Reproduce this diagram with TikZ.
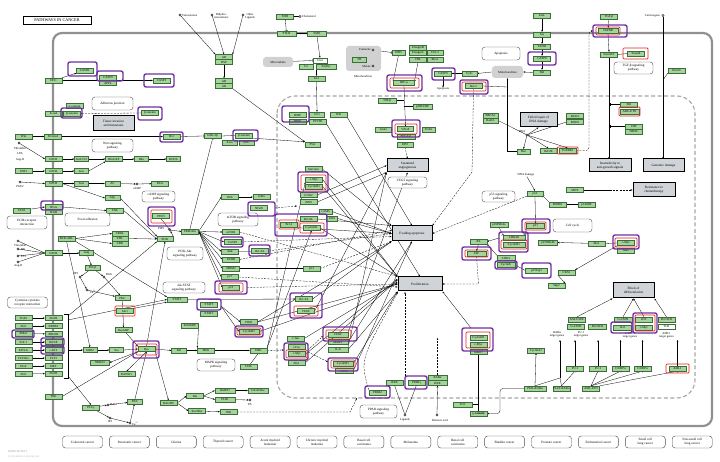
\documentclass[tikz,border=0pt]{standalone}
\usepackage{fontspec}
\setmainfont{Liberation Serif}
\usetikzlibrary{arrows.meta}
\pgfdeclarelayer{bg}
\pgfdeclarelayer{back}
\pgfsetlayers{back,bg,main}
\definecolor{kg}{RGB}{165,212,155}
\definecolor{kgd}{RGB}{60,110,60}
\definecolor{kp}{RGB}{112,48,160}
\definecolor{kr}{RGB}{228,32,32}
\definecolor{kgray}{RGB}{208,212,216}
\definecolor{memb}{RGB}{145,145,145}
\tikzset{
 gbx/.style={draw=kgd, fill=kg, line width=0.3pt, inner sep=0pt, minimum width=17pt, minimum height=5pt, font=\fontsize{3.1}{3.4}\selectfont},
 pheno/.style={draw=black, fill=kgray, line width=1pt, inner sep=0.5pt, align=center, font=\fontsize{3.4}{3.9}\selectfont},
 pway/.style={draw=black!70, rounded corners=3pt, line width=0.4pt, fill=white, align=center, inner sep=0.5pt, font=\fontsize{3.3}{3.8}\selectfont},
 txt/.style={inner sep=0pt, font=\fontsize{3}{3.4}\selectfont, align=center},
 cpd/.style={circle, draw=black, line width=0.3pt, fill=white, inner sep=0pt, minimum size=2.2pt},
 hp/.style={draw=kp, line width=1.4pt, rounded corners=2pt},
 hr/.style={draw=kr, line width=0.7pt, rounded corners=1pt},
 ed/.style={line width=0.3pt, -{Stealth[length=2pt,width=1.6pt]}},
 inh/.style={line width=0.3pt, -{Bar[width=3pt]}},
 ded/.style={line width=0.3pt, dash pattern=on 2pt off 1.2pt, -{Stealth[length=2pt,width=1.6pt]}},
 ln/.style={line width=0.3pt},
 graybox/.style={fill=black!18, rounded corners=3pt, inner sep=0pt, font=\fontsize{3.1}{3.5}\selectfont, align=center},
}
\newcommand{\kGN}[3]{\node[gbx] (#1) at (#2) {#3};}
\newcommand{\kGW}[4]{\node[gbx,minimum width=#4pt] (#1) at (#2) {#3};}
\newcommand{\kHP}[2]{\draw[hp] (#1) rectangle (#2);}
\newcommand{\kHR}[2]{\draw[hr] (#1) rectangle (#2);}
\newcommand{\kPW}[5]{\node[pway,minimum width=#4pt,minimum height=#5pt] (#1) at (#2) {#3};}
\newcommand{\kPH}[5]{\node[pheno,minimum width=#4pt,minimum height=#5pt] (#1) at (#2) {#3};}
\begin{document}
\begin{tikzpicture}[x=1pt,y=-1pt]
\useasboundingbox (0,0) rectangle (720,462);
\begin{pgfonlayer}{back}
\fill[white] (0,0) rectangle (720,462);
\draw[memb, line width=2.2pt, rounded corners=9pt] (53,33) rectangle (712,426);
\draw[black!35, line width=1.1pt, dash pattern=on 4pt off 2.5pt, rounded corners=18pt] (277,96) rectangle (695,398);
\end{pgfonlayer}

% title
\node[draw=black,line width=0.6pt,minimum width=68pt,minimum height=8pt,inner sep=0pt,font=\fontsize{4.2}{5}\selectfont] (title) at (57,20) {PATHWAYS IN CANCER};

% ---------- top left
\kGN{casp8a}{84.5,70.5}{CASP8}
\kGN{dcc}{53.5,80.5}{DCC}
\kGN{casp9a}{108,77.5}{CASP9}
\kGN{appl}{108,83}{APPL}
\kGN{casp3a}{161.5,80.5}{CASP3}
\kGN{acat}{74.5,106}{α-catenin}
\kGN{ecad}{53.5,113.5}{E-cad}
\kGN{bcat1}{72,113.5}{β-catenin}
\kGN{bcat2}{150,113}{β-catenin}
\kGN{wnt}{23.5,136.5}{Wnt}
\kGN{fzd}{53,136.5}{Frizzled}
\kGN{dvl}{171.5,136.5}{Dvl}
\kGN{gsk}{212.5,136}{GSK-3β}
\kGN{bcat3}{244,135.5}{β-catenin}
\kGW{axin}{229.5,142.5}{Axin}{15}
\kGW{apc}{246.5,142.5}{APC}{15}
\kPW{adh}{112.5,103.5}{Adherens junction}{41}{13}
\kPH{tissue}{113.5,123.5}{Tissue invasion\\and metastasis}{41}{15}
\kPW{wntp}{112.5,145.5}{Wnt signaling\\pathway}{41}{13}

% ligands left
\node[cpd] (thr) at (19,143) {};
\node[txt] at (20,148) {Thrombin};
\node[txt] at (20,154) {LPA};
\node[txt] at (20,160) {Ang-II};
\kGN{gpcr1}{53.5,159}{GPCR}
\kGW{g12}{81.5,159}{Gα12/13}{14}
\kGN{rhogef}{114,159}{RhoGEF}
\kGW{rho}{141.5,159}{Rho}{14}
\kGW{rock}{173.5,159}{ROCK}{14}
\kGN{sdf1}{23.5,171}{SDF1}
\kGN{gpcr2}{53.5,171}{GPCR}
\kGW{gi}{81.5,171}{Gαi}{14}
\node[cpd] (pge2) at (20,182) {};
\node[txt] at (20,187) {PGE2};
\kGN{gpcr3}{53.5,183.5}{GPCR}
\kGW{gs}{81.5,183.5}{Gαs}{14}
\kGW{ac}{112.5,183.5}{AC}{15}
\node[cpd] (camp) at (137,184) {};
\node[txt] at (137,189) {cAMP};
\kGN{pka}{160,183.5}{PKA}
\kPW{campp}{158.5,196.5}{cAMP signaling\\pathway}{33}{11}
\kGW{gbg}{112.5,198}{Gβγ}{15}
\kGN{ecm}{21.5,210.5}{ECM}
\kGN{itga}{53.5,207}{ITGA}
\kGN{itgb}{53.5,212}{ITGB}
\kGN{fak}{115,210.5}{FAK}
\kPW{ecmp}{27,222.5}{ECM-receptor\\interaction}{40}{13}
\kPW{focal}{87.5,219.5}{Focal adhesion}{45}{13}
\kGN{pten}{161,216}{PTEN}
\node[cpd] (pip3) at (170,230) {};
\node[txt] at (161,229) {PIP3};
\kGW{pi3k}{165,239}{PI3K}{16}
\kGN{bcrabl}{66.5,238.5}{BCR-ABL}
\kGW{crkl}{120,233.5}{CRKL}{16}
\kGW{cbl}{120,238.5}{CBL}{16}
\kGW{crk}{120,243.5}{CRK}{16}
\node[cpd] (lg1) at (18,241) {}; \node[txt,anchor=west] at (14,245) {Thrombin};
\node[cpd] (lg2) at (18,249) {}; \node[txt,anchor=west] at (21,250) {BK};
\node[cpd] (lg3) at (18,256) {}; \node[txt,anchor=west] at (21,257) {ET1};
\node[cpd] (lg4) at (18,262) {}; \node[txt,anchor=west] at (14,266) {Ang-II};
\kGN{gpcr4}{53.5,253}{GPCR}
\kGW{gq}{86.5,253}{Gαq}{14}
\kGW{plcb}{92.5,268}{PLCβ}{15}
\node[cpd] (ip3a) at (80,277) {}; \node[txt] at (76,274) {IP3};
\node[cpd] (daga) at (104,277) {}; \node[txt] at (109,275) {DAG};
\node[cpd] (caa) at (87,290) {}; \node[txt] at (93,292) {Ca\textsuperscript{2+}};
\kGW{pkc1}{122.5,298}{PKC}{15}
\kPW{cytp}{27.5,302.5}{Cytokine-cytokine\\receptor interaction}{40}{11}

% ---------- akt region
\kGN{akt}{190,231.5}{PKB/Akt}
\kGN{ikk}{230,197}{IKK}
\kGN{ikba}{261.5,197}{IκBα}
\kGN{nfkb}{259,208}{NFκB}
\kPW{mtorp}{238,219.5}{mTOR signaling\\pathway}{40}{13}
\kGN{mtor}{231,232}{mTOR}
\kGN{casp9b}{232.5,242}{CASP9}
\kGN{bad}{230,251.5}{Bad}
\kGN{bclxlb}{260,251}{Bcl-XL}
\kGN{fkhr}{231,259.5}{FKHR}
\kGN{mdm2}{231,268.5}{MDM2}
\kGN{p53b}{311.5,268.5}{p53}
\kGN{p27}{230,277}{p27}
\kGN{p21}{231,287.5}{p21}
\kPW{pi3kp}{185,253.5}{PI3K-Akt\\signaling pathway}{36}{13}
\kPW{jakp}{184,287.5}{Jak-STAT\\signaling pathway}{42}{11}
\kGW{stat3}{177,299.5}{STAT3}{20}
\kGN{stat5}{209,304.5}{STAT5}
\kGN{stat1}{209,313.5}{STAT1}
\kGN{jak1}{125,311}{Jak1}
\kGN{rap}{190,325.5}{RASGRP}
\kGN{pim1}{249,322}{PIM1}
\kGW{cycd1c}{249,331.5}{CyclinD1}{20}

% ---------- nucleus targets
\kGN{survivin}{313.5,169}{Survivin}
\kGN{cmyc1}{314,179.5}{c-Myc}
\kGN{cycd1a}{314,186.5}{CyclinD1}
\kGN{cox2}{308.5,195}{COX2}
\kGN{inos}{308.5,202}{iNOS}
\kGW{ciaps}{325.5,211.5}{c-IAPs}{13}
\kGW{iaps}{332,218.5}{IAPs}{11}
\kGN{bcl2}{289,224.5}{Bcl-2}
\kGN{bclxla}{308.5,219}{Bcl-XL}
\kGN{cycd1b}{311.5,228}{CyclinD1}
\kGN{bclxlc}{304,299}{Bcl-XL}
\kGN{vegfc}{306,311}{VEGF}
\kGN{bmp}{297.5,115}{BMP}
\kGW{gli2}{317,114.5}{GLI}{15}
\kGN{wnt2}{338.5,114.5}{Wnt}
\kGN{hhip}{297.5,121.5}{HHIP}
\kGN{ptch1}{318,121.5}{PTCH1}
\kGW{psa}{312.5,144.5}{PSA}{15}

% ---------- hedgehog / AR top
\node[cpd] (testo) at (180,15) {}; \node[txt,anchor=west] at (182,15.5) {Testosterone};
\node[cpd] (dht) at (212,15) {}; \node[txt,anchor=west] at (214,16) {Dihydro-\\testosterone};
\node[cpd] (olig) at (243,15) {}; \node[txt,anchor=west] at (245,16) {Other\\Ligands};
\kGN{ar}{224,57}{AR}
\kGN{hsp}{224,62}{HSP}
\kGN{ar2}{224,81}{AR}
\kGN{ar3}{224,86}{AR}
\kGN{shh}{285,16.5}{SHH}
\node[cpd] (chol) at (300,16.5) {}; \node[txt,anchor=west] at (302,16.5) {Cholesterol};
\kGW{ptch}{286.5,33.5}{PTCH}{19}
\kGW{smo}{317,33.5}{SMO}{19}
\node[graybox, minimum width=30pt, minimum height=10pt] (micro) at (278,62) {Microtubule};
\node[gbx, fill=white, minimum width=14pt] (cos2) at (320,60.5) {Cos2};
\kGW{fu}{306,66.5}{Fu}{14}
\kGW{sufu}{326,66.5}{Su(Fu)}{20}
\kGN{gli1}{316.5,78.5}{GLI}

% ---------- HIF
\node[graybox, minimum width=35pt, minimum height=25pt] (mito1) at (363.5,58.5) {};
\node[cpd] (fum) at (373,50) {}; \node[txt,anchor=east] at (371,50) {Fumarate};
\kGW{fh}{359.5,59.5}{FH}{14}
\node[cpd] (mal) at (373,66) {}; \node[txt,anchor=east] at (371,66) {Malate};
\node[txt] at (363,76) {Mitochondrion};
\kGW{hph}{398.5,52.5}{HPH}{13}
\kGN{elb}{418,47.5}{ElonginB}
\kGN{elc}{418,52.5}{ElonginC}
\kGN{vhl}{418,59.5}{VHL}
\kGW{cul2}{435,52.5}{CUL2}{16}
\kGW{rbx1}{435,59.5}{Rbx1}{16}
\kGW{hif}{404,83}{HIF-α}{21}
\kGW{hifb}{387.5,100.5}{HIF-β}{18}
\kGW{p300}{422.5,106.5}{p300/CBP}{19}
\kGW{glut1}{383.5,129.5}{Glut1}{16}
\kGW{vegft}{405.5,129}{VEGF}{16}
\kGW{tgfa2}{428.5,129.5}{TGFα}{13}
\kGW{pdgfb}{406,137}{PDGF-β}{18}
\kGW{tgfb3}{405,144.5}{EPO}{16}
\kPH{sust}{407.5,165.5}{Sustained\\angiogenesis}{41}{13}
\kPW{vegfp}{407.5,182.5}{VEGF signaling\\pathway}{39}{11}

% ---------- apoptosis top
\kGN{casp9t}{443,73.5}{CASP9}
\node[txt] (apotxt) at (443,89) {Apoptosis};
\kGW{cytc}{469.5,73.5}{CytC}{15}
\node[graybox, minimum width=31pt, minimum height=12pt] (mito2) at (507.5,72) {Mitochondrion};
\kPW{apop}{501,53.5}{Apoptosis}{38}{13}
\kGN{bcl2t}{473.5,86}{Bcl-2}
\kGN{fasl}{542,15.5}{FasL}
\kGN{fas}{542,34.5}{Fas}
\kGN{fadd}{542,46.5}{FADD}
\kGN{casp8t}{542,58.5}{CASP8}
\kGN{bid}{542,72.5}{Bid}
\kGW{brca2}{490.5,115.5}{BRCA2}{15}
\kGW{rad51}{490.5,120.5}{Rad51}{15}
\kPH{failed}{538.5,120}{Failed repair of\\DNA damage}{37}{14}
\node[cpd] (dna) at (527,135) {}; \node[txt] at (522,132) {DNA};
\kGN{mlh1}{575,116}{MLH1}
\kGN{msh2}{575,122}{MSH2}
\kGW{bax}{523.5,151.5}{Bax}{13}
\kGN{msh}{548.5,151}{IGF2R}
\kGW{tgfbr2}{567.5,150.5}{TGFBR2}{17}

% ---------- TGF
\kGN{tgfb}{609,16.5}{TGF-β}
\kGW{tgfbr}{608,30.5}{TGFBR}{20}
\kGN{smad23}{609,54.5}{Smad2/3}
\kGN{smad4}{636,53.5}{Smad4}
\kPW{tgfp}{633.5,68}{TGF-β signaling\\pathway}{39}{12}
\node[txt,anchor=east] at (660,15.5) {Carcinogens};
\node[cpd] (carc) at (663,15.5) {};
\kGN{egln}{676.5,70.5}{EGLN}
\kGN{ski}{629,104.5}{SKI}
\kGW{amleto}{629.5,111.5}{AML-ETO}{19}
\kGN{cbp}{634,126.5}{CBF}
\kGN{hdac}{634,131.5}{HDAC}
\kPH{insens}{610,165.5}{Insensitivity to\\anti-growth signals}{42}{13}
\kPH{genom}{663.5,165.5}{Genomic damage}{41}{13}
\kGN{mitf}{575,190}{MITF}
\kPH{resist}{654,190}{Resistance to\\chemotherapy}{42}{14}

% ---------- cell cycle
\kPH{evade}{412,233.5}{Evading apoptosis}{40}{15}
\kPH{prolif}{420,284}{Proliferation}{44}{14}
\kPW{p53p}{498.5,196.5}{p53 signaling\\pathway}{33}{11}
\node[txt] (dnadmg) at (526,175) {DNA damage};
\kGW{p53c}{535,193.5}{p53}{16}
\kGN{mdm2c}{557.5,204.5}{MDM2}
\kGN{p14arf}{586.5,204.5}{p14ARF}
\kGW{p16}{499,224.5}{p16INK4a}{18}
\kGW{p21r}{535.5,226}{p21}{18}
\kGW{cdk46}{514,237.5}{CDK4/6}{22}
\kGW{cycd1r}{514,244.5}{CyclinD1}{22}
\kGN{rb}{478.5,241.5}{Rb}
\kGW{e2f}{476.5,253.5}{E2F}{19}
\kGW{cdk2}{506,258}{CDK2}{18}
\kGW{cyce}{506,265}{CyclinE}{18}
\kGW{p27r}{536.5,270.5}{p27Kip1}{22}
\kGW{p15}{548,242.5}{p15INK4b}{19}
\kPW{ccp}{572.5,225.5}{Cell cycle}{39}{13}
\kGN{max1}{596.5,243.5}{Max}
\kGN{cmycr}{626,243}{c-Myc}
\kGN{max2}{626,251}{Max}
\kGN{cks1}{566.5,272.5}{CKS1}
\kGN{skp2}{556.5,286}{Skp2}
\kPH{block}{633.5,290.5}{Block of\\differentiation}{41}{15}

% ---------- AML / target genes
\kGN{gmcsfr}{577,319.5}{GM-CSFR}
\kGN{gcsfr}{576,326.5}{G-CSFR}
\kGW{mcsfr}{597.5,326.5}{M-CSFR}{18}
\node[txt] at (557,334.5) {RARα\\target genes};
\node[txt] at (581,334.5) {PU.1\\target genes};
\kGW{gcsfr2}{623,319.5}{G-CSFR}{18}
\kGW{il6}{622.5,327.5}{IL-6}{18}
\kGN{kit}{644,319.5}{KIT}
\kGN{cmyc5}{644,327.5}{c-Myc}
\node[txt] at (630,335.5) {C/EBPα\\target genes};
\kGN{mcsfr2}{666.5,319.5}{M-CSFR}
\node[gbx,fill=white] (tcr) at (666.5,326.5) {TCR};
\node[txt] at (666.5,335.5) {AML1\\target genes};
\kGN{pu1a}{575,368.5}{PU.1}
\kGN{pu1b}{598,368.5}{PU.1}
\kGN{cebpa1}{620.5,368.5}{C/EBPα}
\kGN{cebpa2}{642.5,368.5}{C/EBPα}
\kGN{aml1}{677.5,368.5}{AML1}
\kGW{pmlrara}{535,388.5}{PML-RARα}{22}
\kGN{plzf}{561.5,388.5}{PLZF-RARα}
\kGN{amleto2}{591,388.5}{AML-ETO}
\kGN{cyca1}{536,350.5}{CyclinA1}

% ---------- bottom middle
\kGW{cycd1e}{478.5,337.5}{CyclinD1}{17}
\kGW{cmyc4}{478.5,344.5}{c-Myc}{17}
\kGW{mmp7}{478.5,352}{MMP7}{17}
\kGW{tcf}{462.5,404.5}{TCF}{19}
\node[gbx,font=\fontsize{3.1}{3.4}\selectfont\bfseries] (gcat) at (478.5,413.5) {γ-catenin};
\kGN{rxr1}{394.5,382.5}{RXR}
\kGN{pparg}{416.5,382.5}{PPARγ}
\kGN{ppard}{377.5,392.5}{PPARδ}
\kGW{rara}{437.5,377.5}{RARα}{19}
\kGW{rxr2}{437.5,383}{RXR}{19}
\kPW{pparp}{378.5,411.5}{PPAR signaling\\pathway}{37}{13}
\node[cpd] (lig) at (405,415) {}; \node[txt] at (405,420) {Ligands};
\node[cpd] (ret) at (437,415) {}; \node[txt] at (440,420) {Retinoic acid};

% ---------- MAPK / receptors
\foreach \n/\l/\y in {l1/TGFα/318,l2/EGF/326,l3/PDGF/333.5,l4/IGF-1/342,l5/KITLG/350,l6/FLT3LG/358,l7/HGF/366,l8/FGF/374}{\kGN{\n}{23.5,\y}{\l}}
\foreach \n/\l/\y in {r1/EGFR/318,r2/ERBB2/326,r3/PDGFR/334,r4/IGF1R/342,r5/c-KIT/350,r6/FLT3/358,r7/MET/366,r8/FGFR/373.5}{\kGN{\n}{53.5,\y}{\l}}
\kGN{trk}{53.5,396.5}{TRK}
\kGW{grb2}{90,350}{GRB2}{14}
\kGW{sos}{116.5,350}{Sos}{14}
\kGN{ras}{146.5,349}{Ras}
\kGN{rasgrp}{123.5,330}{RasGRP}
\kGW{nore1}{100,362.5}{NORE1}{19}
\kGN{rassf1}{126.5,374}{RASSF1}
\kGW{raf}{179,350.5}{Raf}{15}
\kGN{mek}{206,350.5}{MEK}
\kGN{erk}{258.5,350.5}{ERK}
\kGN{copk}{248.5,366.5}{CDK}
\kPW{mapkp}{216,365}{MAPK signaling\\pathway}{38}{12}
\kGN{cjun}{295.5,338.5}{c-Jun}
\kGN{cfos}{296.5,347}{c-Fos}
\kGN{cmyc3}{297,354}{c-Myc}
\kGN{elk1}{296.5,363}{Elk1}
\kGW{vegf2}{338,334.5}{VEGF}{20}
\kGW{mmp2}{338,342}{MMP2}{20}
\kGW{il8}{338,349.5}{IL-8}{20}
\kGW{cycd1d}{343,364}{CyclinD1}{20}
\kGW{cox2b}{344,371}{COX2}{18}
\kGN{plcg}{91,407.5}{PLCγ}
\node[cpd] (dagb) at (108,405) {}; \node[txt,anchor=west] at (110,405) {DAG};
\node[cpd] (ip3b) at (110,418) {}; \node[txt] at (110,422) {IP3};
\node[cpd] (cab) at (130,423) {}; \node[txt,anchor=west] at (132,424) {Ca\textsuperscript{2+}};
\kGW{pkc2}{135,401.5}{PKC}{15}
\kGN{ralgds}{168.5,403}{RalGDS}
\kGN{ral}{195,396}{Ral}
\kGN{rac}{197,411}{Rac/Rho}
\kGW{ralbp1}{225,390.5}{RalBP1}{20}
\kGW{pld1}{225,399.5}{PLD1}{20}
\node[cpd] (pa) at (250,400) {}; \node[txt] at (250,405) {PA};
\kGW{cdc42}{258,390.5}{Cdc42/Rac}{20}
\kGN{jnk}{228.5,412}{JNK}

% ---------- bottom row
\foreach \i/\t in {0/{Colorectal cancer},1/{Pancreatic cancer},2/{Glioma},3/{Thyroid cancer},4/{Acute myeloid\\leukemia},5/{Chronic myeloid\\leukemia},6/{Basal cell\\carcinoma},7/{Melanoma},8/{Renal cell\\carcinoma},9/{Bladder cancer},10/{Prostate cancer},11/{Endometrial cancer},12/{Small cell\\lung cancer},13/{Non-small cell\\lung cancer}}{
 \node[pway, minimum width=40pt, minimum height=12pt] (ca\i) at ({82.5+46.9*\i},442) {\t};}
\node[txt, anchor=west, text=black!40] at (8,452) {05200 10/29/13};
\node[txt, anchor=west, text=black!25] at (8,457) {(c) Kanehisa Laboratories};

% ---------- highlights
\kHP{68,62}{97,76} \kHP{97,71}{123,81} \kHP{144,74}{174,87}
\kHP{61,108}{82,118} \kHP{138,107}{162,120} \kHP{160,132}{183,142} \kHP{233,130}{258,141}
\kHP{41,201}{63,210} \kHP{148,207}{175,226} \kHR{151,210}{172,223}
\kHP{221,237}{243,247} \kHP{249,245}{270,256} \kHP{215,281}{247,294} \kHR{219,283}{243,292}
\kHP{197,299}{221,310} \kHR{115,306}{135,316}
\kHP{12,330}{34,338} \kHP{41,338}{64,346} \kHP{41,346}{64,354}
\kHP{133,341}{159,358} \kHR{136,344}{157,355}
\kHP{235,326}{263,337} \kHR{237,328}{261,335}
\kHP{248,202}{275,216}
\kHP{298,172}{328,192} \kHR{301,175}{326,190}
\kHP{275,214}{327,236} \kHR{279,220}{299,229} \kHR{300,223}{324,233}
\kHP{290,293}{322,318} \kHR{294,306}{318,316}
\kHP{284,343}{308,360} \kHR{286,350}{307,358}
\kHP{323,327}{357,341} \kHR{326,330}{351,339}
\kHP{328,358}{358,371} \kHR{331,360}{355,368}
\kHP{282,106}{309,122}
\kHP{387,75}{422,91} \kHR{390,78}{419,88}
\kHP{432,68}{455,80} \kHP{460,80}{488,94} \kHR{462,82}{486,91}
\kHP{392,120}{420,137} \kHR{395,124}{417,134}
\kHP{528,52}{556,65}
\kHP{593,25}{627,37} \kHR{596,27}{620,35}
\kHR{623,48}{648,59} \kHR{619,107}{640,116} \kHR{557,147}{578,154}
\kHP{462,247}{491,260} \kHR{465,250}{488,257}
\kHP{499,232}{528,252} \kHR{501,240}{527,249}
\kHP{495,261}{517,269}
\kHP{522,219}{550,233} \kHR{525,222}{546,230}
\kHP{522,263}{551,278}
\kHP{613,235}{639,249} \kHR{615,238}{637,247}
\kHP{462,328}{493,351} \kHR{466,332}{490,348}
\kHP{405,376}{427,389} \kHP{365,386}{390,398}
\kHP{611,322}{632,333} \kHP{633,313}{657,333} \kHR{635,315}{655,331}
\kHR{666,364}{689,373}

% ---------- edges
\begin{pgfonlayer}{bg}
\draw[ed] (dcc) -- (casp8a);
\draw[ed] (dcc.east) -- (casp3a.west);
\draw[ln] (ecad.east) -- (bcat1.west);
\draw[ded] (bcat2.west) -- (bcat1.east);
\draw[ed] (wnt) -- (fzd); \draw[ed] (fzd) -- (dvl);
\draw[inh] (dvl.east) -- (gsk.west);
\draw[inh] (gsk.east) -- (bcat3.west);
\draw[ed] (bcat3.south east) -- (psa.north west);
\draw[ed] (thr) -- (gpcr1.west);
\draw[ed] (gpcr1) -- (g12); \draw[ed] (g12) -- (rhogef); \draw[ed] (rhogef) -- (rho); \draw[ed] (rho) -- (rock);
\draw[ed] (sdf1) -- (gpcr2); \draw[ed] (gpcr2) -- (gi); \draw[ed] (gi.east) -- (rhogef.south west);
\draw[ed] (pge2) -- (gpcr3.west); \draw[ed] (gpcr3) -- (gs); \draw[ed] (gs) -- (ac); \draw[ed] (ac) -- (camp); \draw[ed] (camp) -- (pka);
\draw[ed] (gpcr3.east) -- (gbg.west);
\draw[ed] (gbg.east) -- (pi3k.north west);
\draw[ed] (ecm) -- (itga.west);
\draw[ed] (itga.east) -- (fak.west);
\draw[ed] (fak.east) -- (pi3k.west);
\draw[inh] (pten.south) -- (pip3);
\draw[ed] (pi3k.north east) -- (pip3); \draw[ed] (pip3) -- (akt.west);
\draw[ed] (bcrabl.east) -- (crkl.west); \draw[ed] (bcrabl.east) -- (crk.west);
\draw[ed] (cbl.east) -- (pi3k.west);
\foreach \a in {lg1,lg2,lg3,lg4} {\draw[ln] (\a) -- (gpcr4.west);}
\draw[ed] (gpcr4) -- (gq); \draw[ed] (gq) -- (plcb); \draw[ed] (plcb) -- (ip3a); \draw[ed] (plcb) -- (daga);
\draw[ed] (ip3a) -- (caa); \draw[ed] (daga) -- (pkc1); \draw[ed] (caa) -- (pkc1);
\foreach \t in {ikk,mtor,casp9b,bad,fkhr,mdm2,p27,p21} {\draw[ed] (akt.east) -- (\t.west);}
\draw[inh] (akt.north) -- (gsk.south);
\draw[ed] (ikk) -- (ikba);
\draw[ded] (275,208) -- (297,206);
\draw[inh] (bad) -- (bclxlb);
\draw[inh] (mdm2) -- (p53b);
\draw[ded] (mtor.east) -- (prolif.north west);
\draw[ded] (casp9b.east) -- ([yshift=-3pt]evade.west);
\draw[ded] (bclxlb.east) -- (evade.west);
\draw[ded] (fkhr.east) -- ([yshift=3pt]evade.west);
\draw[ded] (p53b.east) -- (evade.south west);
\draw[ded] (p27.east) -- ([yshift=-3pt]prolif.west);
\draw[ded] (247,287.5) -- (prolif.west);
\draw[ed] (cmyc1.east) -- (prolif.north west);
\draw[ed] (cycd1a.east) -- (prolif.north west);
\draw[ed] (survivin.east) -- (evade.north west);
\draw[ed] (cox2.east) -- (sust.west);
\draw[ed] (inos.east) -- (sust.south west);
\draw[ed] (bcl2.south) -- (evade.west);
\draw[ed] (bclxla.east) -- (evade.north west);
\draw[ed] (cycd1b.east) -- (prolif.north west);
\draw[ed] (ciaps.east) -- (evade.west);
\draw[ed] (iaps.east) -- (evade.west);
\draw[ed] (bclxlc.east) -- (evade.south west);
\draw[ed] (vegfc.east) -- (sust.south west);
\draw[ed] (cycd1c.east) -- (prolif.west);
\draw[ed] (pim1.east) -- (prolif.west);
\draw[ed] (pim1.east) -- (evade.south west);
\draw[ded] (308,350) -- (323,336); \draw[ded] (308,352) -- (328,362);
\draw[ed] (vegf2.north east) -- (sust.south);
\draw[ed] (il8.east) -- (prolif.south west);
\draw[ed] (il8.north east) -- (sust.south west);
\draw[ed] (mmp2.east) -- (evade.south);
\draw[ed] (cycd1d.east) -- (prolif.south west);
\draw[ed] (cox2b.east) -- (evade.south);
\draw[ed] (cjun.east) -- ([yshift=2pt]prolif.west);
\draw[ed] (elk1.east) -- ([yshift=4pt]prolif.west);
\draw[ed] (cmyc3.east) -- ([yshift=5pt]prolif.west);
\draw[ed] (erk.north east) -- (cmyc1.south west);
\draw[ed] (erk.north east) -- (cycd1b.south);
\draw[ed] (ptch1.south east) -- (prolif.north);
\draw[ed] (wnt2.south east) -- (evade.north);
\draw[ed] (471,328) -- (prolif.south east);
\draw[ded] (e2f.south) -- (478.5,284) -- (prolif.east);
\draw[ded] (bcl2t.south) -- (472,172) -- (evade.north east);
\draw[ded] (p53c.south west) -- (evade.east);
\draw[ed] (68,350) -- (grb2.west);
\draw[ln] (64,314) -- (68,314) -- (68,378) -- (64,378);
\draw[ed] (grb2) -- (sos); \draw[ed] (sos.east) -- (ras.west); \draw[ed] (ras.east) -- (raf.west);
\draw[ed] (raf) -- (mek); \draw[ed] (mek) -- (erk);
\draw[ded] (erk.east) -- (284,350);
\draw[ed] (rasgrp) -- (ras.north west);
\draw[ed] (pkc1.south) -- (rasgrp.north);
\draw[ed] (ras.south west) -- (nore1.east); \draw[ed] (ras.south) -- (rassf1.north);
\draw[ed] (ras.south east) -- (ralgds.north);
\draw[ed] (ralgds.east) -- (ral.west); \draw[ed] (ralgds.east) -- (rac.west);
\draw[ed] (ral.east) -- (ralbp1.west); \draw[ed] (ral.east) -- (pld1.west);
\draw[ed] (pld1) -- (pa); \draw[ed] (ralbp1) -- (cdc42);
\draw[ed] (rac) -- (jnk);
\draw[ded] (jnk.east) -- (350,412) -- (357,398);
\draw[ed] (ras.north) -- (pi3k.south);
\draw[ed] (trk.east) -- (ras.south west);
\draw[ed] (pkc2.north) -- (ras.south);
\draw[ed] (68,376) -- (plcg.north);
\draw[ed] (plcg) -- (dagb); \draw[ed] (plcg) -- (ip3b); \draw[ed] (ip3b) -- (cab); \draw[ed] (dagb) -- (pkc2); \draw[ed] (cab) -- (pkc2);
\draw[ed] (68,316) -- (pi3k.south west);
\draw[ed] (68,320) -- (stat3.west);
\draw[ed] (jak1.north east) -- (stat3.south west);
\draw[ed] (stat3.east) -- (bclxlc.west);
\draw[ed] (221,306) -- (pim1.west); \draw[ed] (221,306) -- (cycd1c.west);
\draw[ed] (bcrabl.south east) -- (stat3.north west);
\draw[ed] (bcrabl.south) -- (grb2.north);
\draw[ed] (rap.east) -- (mek.north west);
\draw[inh] (copk) -- (erk.south);
\foreach \s/\t in {l1/r1,l2/r2,l3/r3,l4/r4,l5/r5,l6/r6,l7/r7,l8/r8}{\draw[ed] (\s) -- (\t);}
\draw[inh] (shh) -- (ptch);
\draw[ln] (chol) -- (shh.east);
\draw[inh] (ptch) -- (smo);
\draw[ed] (smo.south) -- (cos2.north);
\draw[inh] (micro) -- (cos2.west);
\draw[ed] (316.5,69) -- (gli1.north);
\draw[ed] (gli1.south) -- (gli2.north);
\draw[ed] (testo) -- (ar.north west); \draw[ed] (dht) -- (ar.north); \draw[ed] (olig) -- (ar.north east);
\draw[ed] (hsp.south) -- (ar2.north);
\draw[ed] (ar3.south east) -- (psa.north west);
\draw[inh] (fum) -- (hph.west);
\draw[ed] (fum) -- (mal);
\draw[inh] (hph.south) -- (hif.north west);
\draw[inh] (vhl.south) -- (hif.north east);
\draw[ed] (hif.south) -- (vegft.north);
\draw[ln] (hifb.east) -- (404,100.5); \draw[ln] (p300.west) -- (404,106.5);
\draw[ded] (tgfb3.south) -- (sust.north);
\draw[ed] (fasl) -- (fas); \draw[ed] (fas) -- (fadd); \draw[ed] (fadd) -- (casp8t); \draw[ed] (casp8t) -- (bid);
\draw[ed] (bid.west) -- (mito2.east);
\draw[ed] (mito2.west) -- (cytc.east); \draw[ed] (cytc) -- (casp9t); \draw[ed] (casp9t.south) -- (apotxt.north);
\draw[inh] (bcl2t.east) -- (507.5,87);
\draw[ed] (bax.west) -| (mito2.south);
\draw[ed] (tgfb) -- (tgfbr); \draw[ed] (tgfbr.south) -- (smad23.north);
\draw[ln] (smad4.west) -- (smad23.east);
\draw[ed] (smad23.south) -- (609,159);
\draw[inh] (ski.west) -- (609.5,104.5); \draw[inh] (cbp.west) -- (609.5,126.5);
\draw[ded, rounded corners=3pt] (tgfbr2.east) -- (589,150.5) -- (589,31) -- (593,31);
\draw[ed] (carc) -- (663,159);
\draw[ln] (egln.south west) -- (663,80);
\draw[ln] (rad51.east) -- (dna); \draw[ln] (msh2.west) -- (dna);
\draw[ed] (dna) -- (bax.north); \draw[ed] (dna) -- (msh.north); \draw[ed] (dna) -- (tgfbr2.north);
\draw[ed] (dna) -- (failed.south);
\draw[ed] (dnadmg) -- (p53c.north);
\draw[ed] (p53c.south) -- (p21r.north);
\draw[inh] (p21r.south west) -- (cdk46.north east);
\draw[inh] (p16.south) -- (cdk46.north west);
\draw[ed] (499,238) -- (rb.east);
\draw[ed] (rb.south) -- (e2f.north);
\draw[ed] (cdk2.north west) -- (rb.south east);
\draw[inh] (p27r.west) -- (cyce.east);
\draw[inh] (p14arf) -- (mdm2c);
\draw[inh] (mdm2c.north west) -- (p53c.south east);
\draw[ed] (max1) -- (p15.east);
\draw[ln] (max1.east) -- (cmycr.west);
\draw[ed] (cmycr.south west) -- (cks1.north east);
\draw[ed] (cks1.south west) -- (skp2.north east);
\draw[ln] (mitf.east) -- (610,190); \draw[ded] (610,190) -- (resist.west);
\foreach \a/\x in {pu1a/575,pu1b/598,cebpa1/620.5,cebpa2/642.5,aml1/677.5}{\draw[ed] (\a.north) -- (\x,340);}
\draw[ed] (560,378) -- (560,340);
\draw[ln] (pmlrara.north) -- (560,378); \draw[ln] (plzf.north) -- (560,378);
\draw[inh] (amleto2.north) -- (pu1b.south); \draw[inh] (amleto2.north) -- (cebpa1.south); \draw[inh] (amleto2.north) -- (cebpa2.south);
\draw[inh] (plzf.north) -- (pu1a.south); \draw[inh] (amleto2.north east) -- (aml1.south);
\draw[ed] (pmlrara.north) -- (cyca1.south);
\draw[ed] (gmcsfr.north) -- (block.south west); \draw[ed] (gcsfr2.north) -- (block.south);
\draw[ed] (kit.north) -- (block.south); \draw[ed] (mcsfr2.north) -- (block.south east);
\draw[ln] (lig) -- (rxr1.south); \draw[ln] (lig) -- (pparg.south);
\draw[ed] (ret) -- (rxr2.south);
\draw[ded] (405,376) -- (405,292);
\draw[ded] (rara.north) -- (437.5,338);
\draw[ded] (ppard.north west) .. controls (360,360) .. (398,292);
\draw[ed] (gcat.north) -- (478.5,352);
\draw[ln] (tcf.east) -- (478.5,404.5);
\draw[ed, rounded corners=3pt] (pmlrara.west) -- (500,388.5) -- (500,413.5) -- (gcat.east);
\end{pgfonlayer}
\end{tikzpicture}
\end{document}
